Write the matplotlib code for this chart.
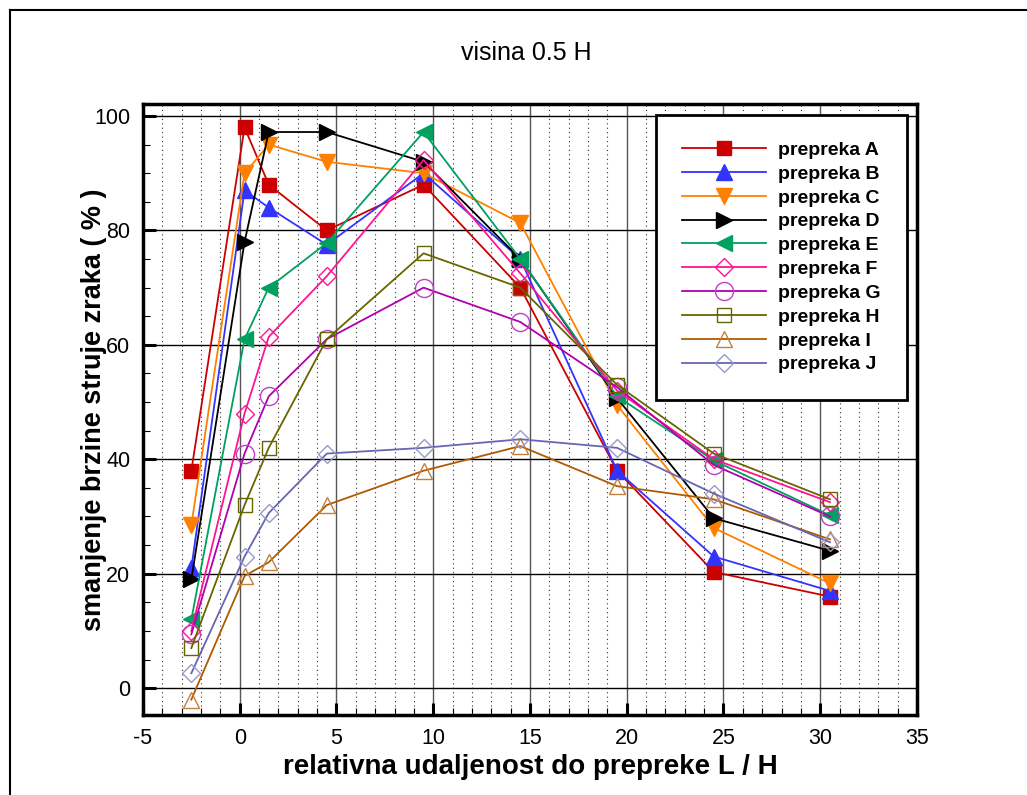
import matplotlib
matplotlib.use("Agg")
import matplotlib.pyplot as plt
from matplotlib.lines import Line2D
from matplotlib.ticker import MultipleLocator

plt.rcParams["font.family"] = ["Liberation Sans", "DejaVu Sans"]
plt.rcParams["axes.unicode_minus"] = False

# distance from obstacle (L / H), same stations for every obstacle
x_pos = [-2.5, 0.25, 1.5, 4.5, 9.5, 14.5, 19.5, 24.5, 30.5]

labels = ["prepreka A", "prepreka B", "prepreka C", "prepreka D", "prepreka E",
          "prepreka F", "prepreka G", "prepreka H", "prepreka I", "prepreka J"]

# air velocity reduction (%)
val_a = [38, 98, 88, 80, 88, 70, 38, 20.3, 16]
val_b = [21, 87, 84, 77.5, 90, 75, 38, 23, 17]
val_c = [28.5, 90, 95, 92, 90, 81.3, 49.5, 28, 18.3]
val_d = [19, 78, 97.2, 97.2, 92, 75, 50.7, 29.7, 24]
val_e = [12, 61, 70, 77.8, 97.2, 75, 51, 39.8, 30.2]
val_f = [10, 48, 61.4, 72, 92.3, 72.5, 52, 40, 32.5]
val_g = [9.4, 41, 51, 61, 70, 64, 52.6, 39, 30]
val_h = [7, 32, 42, 61, 76, 70, 53, 41, 33]
val_i = [-2, 19.6, 22, 32, 38, 42.3, 35.3, 33, 26]
val_j = [2.6, 23, 30.6, 41, 42, 43.5, 42, 34, 25.5]

series = [val_a, val_b, val_c, val_d, val_e, val_f, val_g, val_h, val_i, val_j]

# (line colour, marker, marker size, face colour, edge colour)
styles = [
    ("#cc0000", "s", 10, "#cc0000", "#cc0000"),
    ("#3333ff", "^", 11, "#3333ff", "#3333ff"),
    ("#ff8000", "v", 11, "#ff8000", "#ff8000"),
    ("#000000", ">", 11, "#000000", "#000000"),
    ("#00a060", "<", 11, "#00a060", "#00a060"),
    ("#ff1493", "D", 9, "none", "#ff1493"),
    ("#b000b0", "o", 13, "none", "#c040c0"),
    ("#666600", "s", 10, "none", "#666600"),
    ("#b05a00", "^", 11, "none", "#c08040"),
    ("#6666b3", "D", 9, "none", "#9999cc"),
]

fig = plt.figure(figsize=(10.27, 7.95), dpi=100)
ax = fig.add_axes([0.1392, 0.1006, 0.7537, 0.7686])

# outer frame of the page
fig.add_artist(Line2D([10 / 1027, 10 / 1027], [0, 1 - 10 / 795], color="black", lw=1.5))
fig.add_artist(Line2D([10 / 1027, 1], [1 - 10 / 795, 1 - 10 / 795], color="black", lw=1.5))

for vals, lab, (col, mk, ms, fc, ec) in zip(series, labels, styles):
    ax.plot(x_pos, vals, color=col, lw=1.3, marker=mk, markersize=ms,
            markerfacecolor=fc, markeredgecolor=ec, markeredgewidth=1.0,
            label=lab, zorder=3)

ax.set_xlim(-5, 35)
ax.set_ylim(-4.7, 102.1)
ax.xaxis.set_major_locator(MultipleLocator(5))
ax.xaxis.set_minor_locator(MultipleLocator(1))
ax.yaxis.set_major_locator(MultipleLocator(20))
ax.yaxis.set_minor_locator(MultipleLocator(5))

ax.grid(which="major", axis="x", color="#555555", lw=1.0, ls="-")
ax.grid(which="major", axis="y", color="black", lw=1.0, ls="-")
ax.grid(which="minor", axis="x", color="#333333", lw=0.8, ls=(0, (1, 3)))
ax.set_axisbelow(True)

ax.tick_params(which="major", direction="in", length=9, width=2.2,
               labelsize=15.5, pad=9, top=False, right=False)
ax.tick_params(which="minor", direction="in", length=5, width=0.8,
               top=False, right=False)
for sp in ax.spines.values():
    sp.set_linewidth(2.5)

fig.text(0.512, 0.933, "visina 0.5 H", ha="center", va="center", fontsize=18)
fig.text(0.516, 0.035, "relativna udaljenost do prepreke L / H",
         ha="center", va="center", fontsize=20, fontweight="bold")
fig.text(0.092, 0.485, "smanjenje brzine struje zraka ( % )", rotation=90,
         ha="center", va="center", fontsize=19.5, fontweight="bold")

leg = ax.legend(loc="upper left", bbox_to_anchor=(0.663, 0.982), frameon=True,
                fancybox=False, edgecolor="black", framealpha=1,
                prop={"weight": "bold", "size": 14}, handlelength=4.3,
                labelspacing=0.32, borderpad=1.35, handletextpad=0.6,
                borderaxespad=0)
leg.get_frame().set_linewidth(2.0)

fig.savefig("out.png", dpi=100)
